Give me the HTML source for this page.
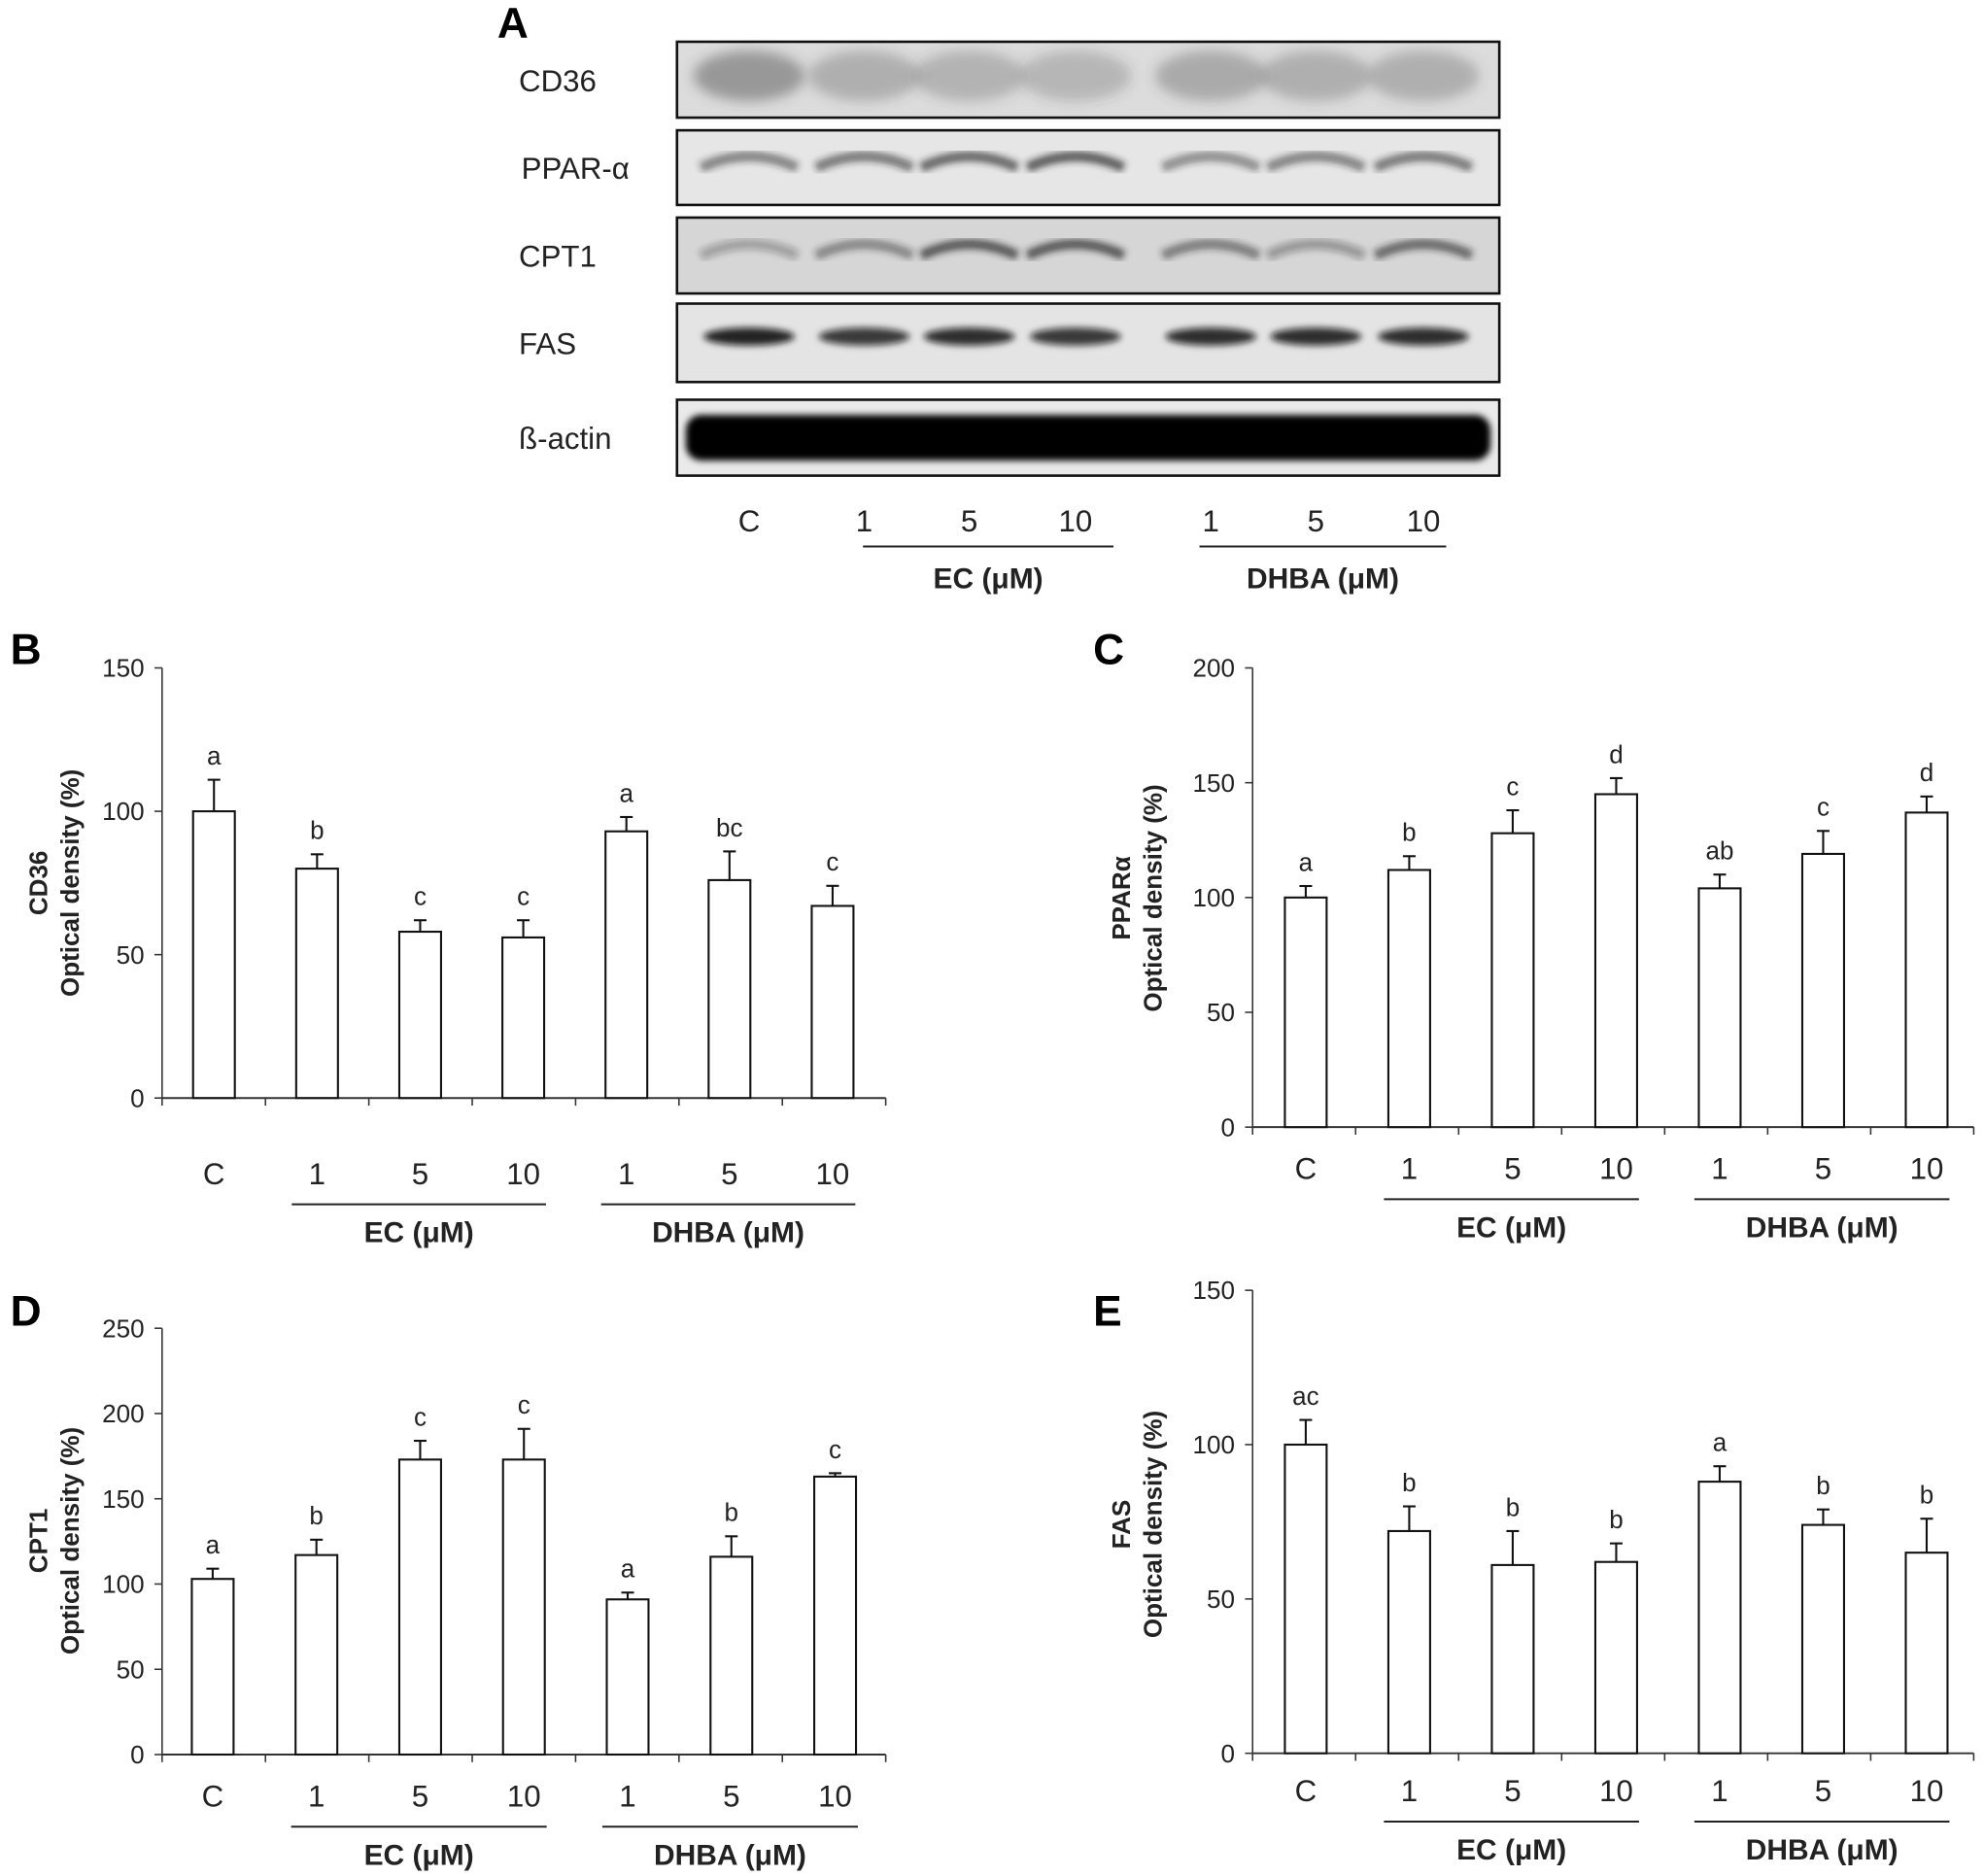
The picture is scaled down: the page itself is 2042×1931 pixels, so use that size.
<!DOCTYPE html>
<html><head><meta charset="utf-8"><style>
html,body{margin:0;padding:0;background:#fff;}
svg{display:block;font-family:"Liberation Sans",Arial,sans-serif;}
</style></head><body>
<svg id="fig" width="2042" height="1931" viewBox="0 0 1568 1483" xmlns="http://www.w3.org/2000/svg">
<defs>
<filter id="blur4" x="-20%" y="-50%" width="140%" height="200%"><feGaussianBlur stdDeviation="5"/></filter>
<filter id="blur2" x="-20%" y="-50%" width="140%" height="200%"><feGaussianBlur stdDeviation="2.6"/></filter>
</defs>
<g id="panelA">
<text x="393" y="30" font-size="34" font-weight="bold">A</text>
</g>
</svg>
<script>
// ---- Panel B data (CD36)
const catLabels = ["C","1","5","10","1","5","10"];
const cd36Values = [100,80,58,56,93,76,67];
const cd36Err = [11,5,4,6,5,10,7];
const cd36Letters = ["a","b","c","c","a","bc","c"];
const cd36Ticks = [0,50,100,150];
// ---- Panel C data (PPARa)
const pparValues = [100,112,128,145,104,119,137];
const pparErr = [5,6,10,7,6,10,7];
const pparLetters = ["a","b","c","d","ab","c","d"];
const pparTicks = [0,50,100,150,200];
// ---- Panel D data (CPT1)
const cptValues = [103,117,173,173,91,116,163];
const cptErr = [6,9,11,18,4,12,2];
const cptLetters = ["a","b","c","c","a","b","c"];
const cptTicks = [0,50,100,150,200,250];
// ---- Panel E data (FAS)
const fasValues = [100,72,61,62,88,74,65];
const fasErr = [8,8,11,6,5,5,11];
const fasLetters = ["ac","b","b","b","a","b","b"];
const fasTicks = [0,50,100,150];

const NS="http://www.w3.org/2000/svg";
const fig=document.getElementById('fig');
function mk(tag,attrs,parent,txt){const e=document.createElementNS(NS,tag);for(const k in attrs)e.setAttribute(k,attrs[k]);if(txt!==undefined)e.textContent=txt;(parent||fig).appendChild(e);return e;}

function chart(cfg){
  const g=mk('g',{});
  
  
  const ymax=cfg.ticks[cfg.ticks.length-1];
  const y=v=>cfg.y0-(v/ymax)*(cfg.y0-cfg.yTop);
  const x=i=>cfg.x0+cfg.left+i*cfg.step;
  const pl=mk('text',{x:cfg.letterX,y:cfg.letterY,'font-size':34,'font-weight':'bold'},g,cfg.letter);
  
  
  const ya=mk('line',{x1:cfg.x0,y1:cfg.yTop,x2:cfg.x0,y2:cfg.y0,stroke:'#333','stroke-width':1.2},g);
  
  
  cfg.ticks.forEach(t=>{
    mk('line',{x1:cfg.x0-6,y1:y(t),x2:cfg.x0,y2:y(t),stroke:'#333','stroke-width':1.2},g);
    const tl=mk('text',{x:cfg.x0-14,y:y(t)+7,'font-size':20,'text-anchor':'end',fill:'#222'},g,String(t));
    
    
  });
  const xa=mk('line',{x1:cfg.x0,y1:cfg.y0,x2:cfg.xEnd,y2:cfg.y0,stroke:'#333','stroke-width':1.5},g);
  
  
  for(let i=0;i<=cfg.values.length;i++){
    const tx=cfg.x0+i*(cfg.xEnd-cfg.x0)/cfg.values.length;
    mk('line',{x1:tx,y1:cfg.y0,x2:tx,y2:cfg.y0+6,stroke:'#333','stroke-width':1.2},g);
  }
  cfg.values.forEach((v,i)=>{
    const cx=x(i), bw=33;
    const top=y(v), et=y(v+cfg.err[i]);
    const eb=mk('line',{x1:cx,y1:top,x2:cx,y2:et,stroke:'#111','stroke-width':1.6},g);
    
    
    mk('line',{x1:cx-5,y1:et,x2:cx+5,y2:et,stroke:'#111','stroke-width':1.6},g);
    const b=mk('rect',{x:cx-bw/2,y:top,width:bw,height:cfg.y0-top,fill:'#fff',stroke:'#111','stroke-width':1.6},g);
    
    
    const lt=mk('text',{x:cx,y:et-12,'font-size':20,'text-anchor':'middle',fill:'#222'},g,cfg.letters[i]);
    
    
    const cl=mk('text',{x:cx,y:cfg.catY,'font-size':24,'text-anchor':'middle',fill:'#222'},g,catLabels[i]);
    
    
  });
  [[1,3,'EC (μM)'],[4,6,'DHBA (μM)']].forEach(([a,b,t])=>{
    const x1=x(a)-20,x2=x(b)+18;
    mk('line',{x1:x1,y1:cfg.catY+16,x2:x2,y2:cfg.catY+16,stroke:'#222','stroke-width':1.5},g);
    const gl=mk('text',{x:(x1+x2)/2,y:cfg.catY+46,'font-size':23,'font-weight':'bold','text-anchor':'middle',fill:'#222'},g,t);
    
    
  });
  const yt=mk('text',{transform:`translate(${cfg.titleX},${cfg.titleY}) rotate(-90)`,'font-size':20,'font-weight':'bold','text-anchor':'middle',fill:'#222'},g);
  
  
  mk('tspan',{x:0,y:0},yt,cfg.title);
  mk('tspan',{x:0,dy:25},yt,'Optical density (%)');
}
chart({name:'cd36-chart',letter:'B',letterX:8,letterY:525,x0:128,xEnd:700,y0:868,yTop:528,left:41,step:81.5,ticks:cd36Ticks,values:cd36Values,err:cd36Err,letters:cd36Letters,catY:936,title:'CD36',titleX:37,titleY:698});
chart({name:'ppar-chart',letter:'C',letterX:864,letterY:525,x0:990,xEnd:1560,y0:891,yTop:528,left:42,step:81.8,ticks:pparTicks,values:pparValues,err:pparErr,letters:pparLetters,catY:932,title:'PPARα',titleX:893,titleY:710});
chart({name:'cpt1-chart',letter:'D',letterX:8,letterY:1048,x0:128,xEnd:700,y0:1387,yTop:1050,left:40,step:82,ticks:cptTicks,values:cptValues,err:cptErr,letters:cptLetters,catY:1428,title:'CPT1',titleX:37,titleY:1218});
chart({name:'fas-chart',letter:'E',letterX:864,letterY:1048,x0:990,xEnd:1560,y0:1386,yTop:1020,left:42,step:81.8,ticks:fasTicks,values:fasValues,err:fasErr,letters:fasLetters,catY:1424,title:'FAS',titleX:893,titleY:1205});

// ---- Western blot
const blotNames=["CD36","PPAR-α","CPT1","FAS","ß-actin"];
const blotIntensity=[[0.75,0.5,0.45,0.4,0.55,0.5,0.5],[0.5,0.55,0.65,0.7,0.45,0.5,0.55],[0.3,0.45,0.7,0.7,0.5,0.35,0.6],[0.9,0.8,0.85,0.8,0.85,0.85,0.85],[1,1,1,1,1,1,1]];
const lanes=[592,683,766,850,957,1040,1125];
const pA=document.getElementById('panelA');
const rows=[[33,93,'#dcdcdc'],[103,162,'#e6e6e6'],[172,232,'#d6d6d6'],[240,302,'#e4e4e4'],[316,376,'#eaeaea']];
rows.forEach(([t,b,bg],r)=>{
  const g=mk('g',{},pA);
  
  
  mk('rect',{x:535,y:t,width:650,height:b-t,fill:bg},g);
  const h=b-t;
  if(r===4){
    mk('rect',{x:542,y:t+12,width:636,height:h-24,rx:12,fill:'#050505',filter:'url(#blur2)'},g);
  }
  lanes.forEach((lx,i)=>{
    const a=blotIntensity[r][i];
    if(r===0) mk('ellipse',{cx:lx,cy:t+h*0.45,rx:44,ry:20,fill:'#444','fill-opacity':a*0.6,filter:'url(#blur4)'},g);
    else if(r===4) {}
    else if(r===3) mk('ellipse',{cx:lx,cy:t+h*0.42,rx:36,ry:7,fill:'#111','fill-opacity':a,filter:'url(#blur2)'},g);
    else mk('path',{d:`M${lx-38},${t+h*0.5} Q${lx},${t+h*0.2} ${lx+38},${t+h*0.5}`,stroke:'#222','stroke-opacity':a,'stroke-width':8,fill:'none',filter:'url(#blur2)'},g);
  });
  mk('rect',{x:535,y:t,width:650,height:b-t,fill:'none',stroke:'#111','stroke-width':2},g);
  const lt=mk('text',{x:r===1?412:410,y:(t+b)/2+9,'font-size':24,fill:'#222'},g,blotNames[r]);
  
  
});
lanes.forEach((lx,i)=>{
  const t=mk('text',{x:lx,y:420,'font-size':24,'text-anchor':'middle',fill:'#222'},pA,catLabels[i]);
  
  
});
[[682,880,'EC (μM)'],[948,1143,'DHBA (μM)']].forEach(([x1,x2,t])=>{
  mk('line',{x1:x1,y1:432,x2:x2,y2:432,stroke:'#222','stroke-width':1.5},pA);
  const gl=mk('text',{x:(x1+x2)/2,y:465,'font-size':23,'font-weight':'bold','text-anchor':'middle',fill:'#222'},pA,t);
  
  
});
</script>
</body></html>
